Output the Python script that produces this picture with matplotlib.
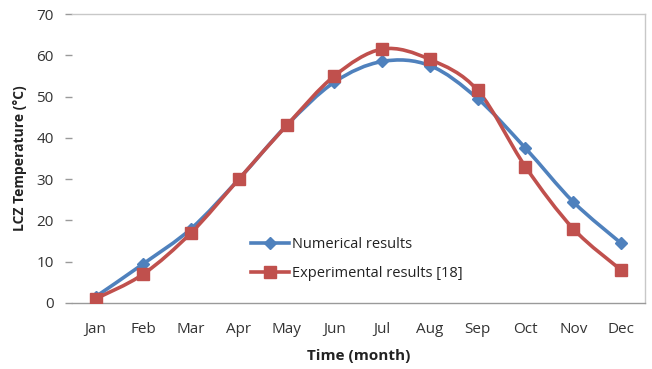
import matplotlib
matplotlib.use("Agg")
import matplotlib.pyplot as plt
import numpy as np
from matplotlib.path import Path
from matplotlib.patches import PathPatch
from matplotlib.lines import Line2D

months = ["Jan", "Feb", "Mar", "Apr", "May", "Jun", "Jul", "Aug", "Sep", "Oct", "Nov", "Dec"]
numerical = [1.5, 9.5, 18.0, 30.0, 43.0, 53.5, 58.5, 57.5, 49.5, 37.5, 24.5, 14.5]
experimental = [1.0, 7.0, 17.0, 30.0, 43.0, 55.0, 61.5, 59.0, 51.5, 33.0, 18.0, 8.0]

BLUE = "#4F81BD"
RED = "#C0504D"

plt.rcParams["font.family"] = ["Open Sans", "DejaVu Sans"]


def smooth_path(x, y):
    """Catmull-Rom curve through the points, expressed as cubic Bezier segments."""
    pts = np.column_stack([x, y]).astype(float)
    n = len(pts)
    verts = [pts[0]]
    codes = [Path.MOVETO]
    for i in range(n - 1):
        p0 = pts[i - 1] if i > 0 else pts[i]
        p1 = pts[i]
        p2 = pts[i + 1]
        p3 = pts[i + 2] if i + 2 < n else pts[i + 1]
        c1 = p1 + (p2 - p0) / 6.0
        c2 = p2 - (p3 - p1) / 6.0
        verts += [c1, c2, p2]
        codes += [Path.CURVE4] * 3
    return Path(verts, codes)


fig = plt.figure(figsize=(6.52, 3.69), dpi=100)
ax = fig.add_axes([0.110, 0.179, 0.879, 0.783])

x = np.arange(len(months))

for vals, color in [(numerical, BLUE), (experimental, RED)]:
    patch = PathPatch(smooth_path(x, vals), facecolor="none", edgecolor=color,
                      linewidth=2.6, capstyle="round", joinstyle="round")
    ax.add_patch(patch)

ax.plot(x, numerical, linestyle="none", marker="D", markersize=6.5, color=BLUE, zorder=3)
ax.plot(x, experimental, linestyle="none", marker="s", markersize=9, color=RED, zorder=4)

ax.set_xlim(-0.5, len(months) - 0.5)
ax.set_ylim(0, 70)
ax.set_yticks(range(0, 71, 10))
ax.set_xticks(x)
ax.set_xticklabels(months)

for side in ["top", "right", "left"]:
    ax.spines[side].set_color("#c8c8c8")
    ax.spines[side].set_linewidth(1.0)
ax.spines["bottom"].set_color("#9a9a9a")
ax.spines["bottom"].set_linewidth(1.0)
ax.spines["left"].set_visible(False)

ax.tick_params(axis="x", length=0, pad=14, labelsize=11, labelcolor="#333333")
ax.tick_params(axis="y", length=5, color="#9a9a9a", width=1.0, pad=8,
               labelsize=11, labelcolor="#333333")

ax.set_xlabel("Time (month)", fontsize=11, fontweight="bold", color="#222222", labelpad=8)
ax.set_ylabel("LCZ Temperature (°C)", fontsize=10, fontweight="bold", color="#222222", labelpad=7)

handles = [
    Line2D([0], [0], color=BLUE, lw=2.6, marker="D", markersize=6.5),
    Line2D([0], [0], color=RED, lw=2.6, marker="s", markersize=9),
]
ax.legend(handles, ["Numerical results", "Experimental results [18]"],
          loc="upper left", bbox_to_anchor=(0.29, 0.275), frameon=False,
          fontsize=10.5, handlelength=2.6, handletextpad=0.2, labelspacing=1.0,
          labelcolor="#222222")

fig.savefig("out.png", dpi=100, facecolor="white")
